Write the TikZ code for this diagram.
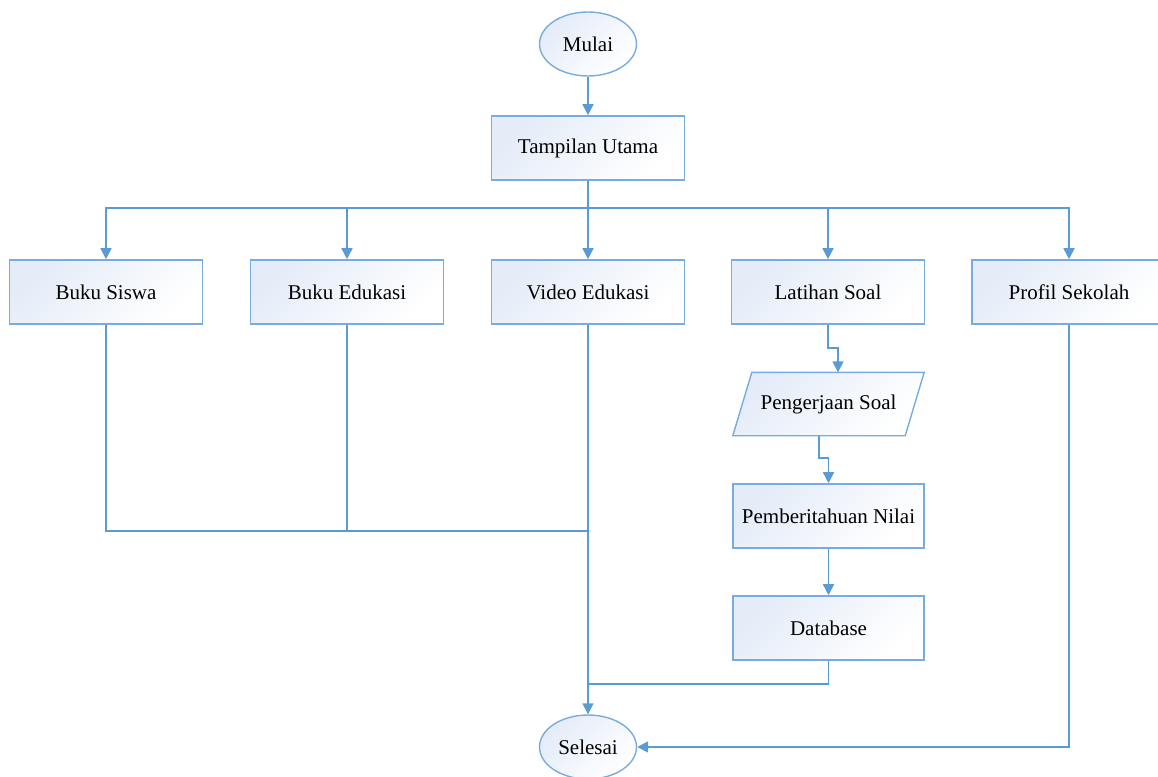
\documentclass[tikz,border=0pt]{standalone}
\usepackage{fontspec}
\setmainfont{Liberation Serif}
\usetikzlibrary{arrows.meta,positioning,shapes.geometric,backgrounds}
\definecolor{flowline}{RGB}{91,155,213}
\definecolor{flowedge}{RGB}{120,172,222}
\definecolor{flowfill}{RGB}{228,236,248}

\begin{document}
\begin{tikzpicture}[
		x=1pt,y=-1pt,
		font=\fontsize{21}{25}\selectfont,
		box/.style={draw=flowedge,line width=1.6pt,top color=flowfill,bottom color=white,shading angle=45,minimum width=193pt,minimum height=64pt,inner sep=0pt},
		term/.style={ellipse,draw=flowedge,line width=1.4pt,top color=flowfill,bottom color=white,shading angle=45,minimum width=97pt,minimum height=64pt,inner sep=0pt},
		io/.style={minimum width=191pt,minimum height=63pt,inner sep=0pt},
		ioshape/.style={draw=flowedge,line width=1.4pt,top color=flowfill,bottom color=white,shading angle=45,line join=miter},
		line/.style={draw=flowline,line width=1.6pt},
		arr/.style={line,-{Triangle[length=11pt,width=11pt]}}
		]
		
		\useasboundingbox (0,0) rectangle (1158,776);
		
		% --- start and main screen
		\node[term] (mulai) at (588,44) {Mulai};
		\node[box] (utama) at (588,148) {Tampilan Utama};
		
		% --- menu row
		\node[box] (siswa) at (106,292) {Buku Siswa};
		\node[box] (edukasi) at (347,292) {Buku Edukasi};
		\node[box] (video) at (588,292) {Video Edukasi};
		\node[box] (latihan) at (828,292) {Latihan Soal};
		\node[box,minimum width=194pt] (profil) at (1069,292) {Profil Sekolah};
		
		% --- quiz branch (parallelogram drawn behind its text)
		\node[io] (soal) at (828.5,404) {Pengerjaan Soal};
		\begin{scope}[on background layer]
			\path[ioshape] ([xshift=19]soal.north west) -- (soal.north east)
			-- ([xshift=-19]soal.south east) -- (soal.south west) -- cycle;
		\end{scope}
		\coordinate (soaltop) at ([xshift=9.5]soal.north);
		\coordinate (soalbot) at ([xshift=-9.5]soal.south);
		
		\node[box,minimum width=191pt] (nilai) at (828.5,516) {Pemberitahuan Nilai};
		\node[box,minimum width=191pt] (database) at (828.5,628) {Database};
		
		% --- end
		\node[term] (selesai) at (588,747) {Selesai};
		
		\coordinate (split) at (588,208);
		\coordinate (join) at (588,531);
		\coordinate (dbjoin) at (588,684);
		
		% --- connectors
		\draw[arr] (mulai) -- (utama);
		\draw[line] (utama.south) -- (split);
		\draw[arr] (split) -| (siswa.north);
		\draw[arr] (split) -| (edukasi.north);
		\draw[arr] (split) -- (video.north);
		\draw[arr] (split) -| (latihan.north);
		\draw[arr] (split) -| (profil.north);
		
		\draw[arr] (latihan.south) -- ++(0,23) -| (soaltop);
		\draw[arr] (soalbot) -- ++(0,22) -| (nilai.north);
		\draw[arr] (nilai) -- (database);
		
		\draw[line] (siswa.south) |- (join);
		\draw[line] (edukasi.south) |- (join);
		\draw[line] (database.south) |- (dbjoin);
		\draw[arr] (video.south) -- (selesai.north);
		\draw[arr] (profil.south) |- (selesai.east);
		
	\end{tikzpicture}
\end{document}
